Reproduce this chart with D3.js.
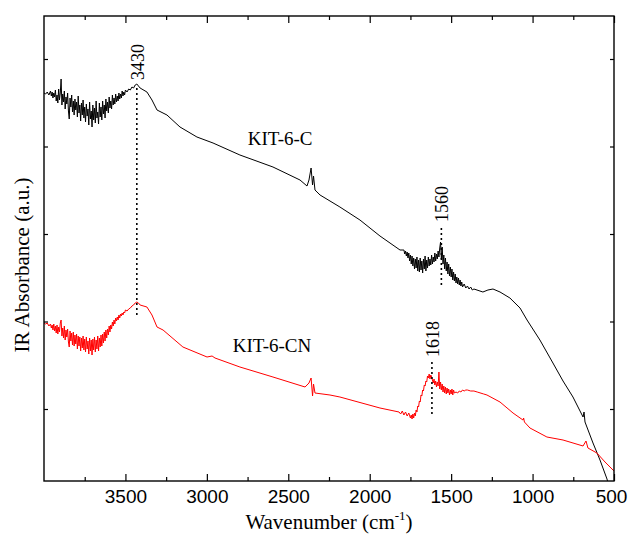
<!DOCTYPE html>
<html>
<head>
<meta charset="utf-8">
<script src="https://cdn.jsdelivr.net/npm/d3@7"></script>
<style>
  body { margin: 0; background: #fff; }
  svg { font-family: "Liberation Serif", "Times New Roman", serif; }
  .axis path { display: none; }
  .axis line { stroke: #000; stroke-width: 1.2; }
  .axis text { font-size: 19px; fill: #000; }
</style>
</head>
<body>
<div class="chart"></div>
<script>
// KIT-6-C spectrum: [wavenumber, absorbance (a.u.)]
const kit6C = [
  [4000,3.88],[3990,3.87],[3980,3.89],[3970,3.86],
  [3960,3.90],[3955,3.85],[3950,3.89],[3945,3.83],[3940,3.88],[3935,3.84],[3930,3.91],[3925,3.80],[3920,3.86],[3915,3.78],
  [3910,3.92],[3905,3.81],[3900,3.88],[3895,4.02],[3890,3.76],[3885,3.87],[3880,3.79],[3875,3.90],[3870,3.72],[3865,3.84],
  [3860,3.77],[3855,3.88],[3850,3.70],[3845,3.62],[3840,3.83],[3835,3.74],[3830,3.86],[3825,3.69],[3820,3.80],[3815,3.66],
  [3810,3.82],[3805,3.71],[3800,3.79],[3795,3.64],[3790,3.85],[3785,3.68],[3780,3.76],[3775,3.60],[3770,3.78],[3765,3.66],
  [3760,3.81],[3755,3.63],[3750,3.74],[3745,3.59],[3740,3.77],[3735,3.65],[3730,3.72],[3725,3.56],[3720,3.79],[3715,3.62],
  [3710,3.70],[3705,3.54],[3700,3.76],[3695,3.61],[3690,3.73],[3685,3.58],[3680,3.80],[3675,3.63],[3670,3.69],[3665,3.57],
  [3660,3.78],[3655,3.64],[3650,3.74],[3645,3.61],[3640,3.80],[3635,3.67],[3630,3.76],[3625,3.63],[3620,3.82],[3615,3.70],
  [3610,3.79],[3605,3.68],[3600,3.84],[3595,3.73],[3590,3.80],[3585,3.72],[3580,3.86],[3575,3.76],[3570,3.83],[3565,3.77],
  [3560,3.87],[3555,3.79],[3550,3.85],[3545,3.80],[3540,3.88],[3535,3.82],[3530,3.87],[3525,3.83],[3520,3.90],[3515,3.85],
  [3510,3.89],[3505,3.86],[3500,3.91],[3490,3.89],[3480,3.92],[3470,3.91],[3460,3.94],[3450,3.93],[3440,3.96],[3430,3.97],
  [3420,3.95],[3410,3.93],[3368,3.89],[3337,3.81],[3306,3.71],[3245,3.66],[3165,3.54],[3061,3.44],[2962,3.38],[2797,3.26],
  [2594,3.14],[2428,3.01],[2385,2.95],[2373,3.01],[2360,3.13],[2351,2.96],[2345,3.05],[2336,2.91],[2305,2.86],[2183,2.74],
  [2060,2.61],[1937,2.45],[1814,2.31],
  [1790,2.31],[1785,2.27],[1780,2.30],[1775,2.25],[1770,2.29],[1765,2.23],[1760,2.28],[1755,2.20],[1750,2.26],[1745,2.17],
  [1740,2.25],[1735,2.15],[1730,2.23],[1725,2.12],[1720,2.22],[1715,2.13],[1710,2.24],[1705,2.10],[1700,2.21],[1695,2.09],
  [1690,2.23],[1685,2.11],[1680,2.20],[1675,2.08],[1670,2.22],[1665,2.12],[1660,2.25],[1655,2.10],[1650,2.21],[1645,2.13],
  [1640,2.24],[1635,2.15],[1630,2.22],[1625,2.16],[1620,2.26],[1615,2.17],[1610,2.24],[1605,2.19],[1600,2.28],[1595,2.20],
  [1590,2.27],[1585,2.22],[1580,2.30],[1575,2.24],[1570,2.33],[1565,2.39],[1560,2.22],[1555,2.34],[1550,2.17],[1545,2.26],
  [1540,2.12],[1535,2.23],[1530,2.10],[1525,2.19],[1520,2.07],[1515,2.17],[1510,2.05],[1505,2.14],[1500,2.04],[1495,2.12],
  [1490,2.01],[1485,2.09],[1480,2.00],[1475,2.07],[1470,1.98],[1465,2.04],[1460,1.97],[1455,2.03],[1450,1.96],[1445,2.01],
  [1440,1.95],[1435,1.99],[1430,1.94],[1420,1.97],[1410,1.93],[1400,1.95],[1390,1.92],[1380,1.94],[1370,1.91],[1360,1.92],
  [1305,1.89],[1274,1.91],[1243,1.92],[1200,1.89],[1139,1.83],[1077,1.73],[1034,1.61],[955,1.41],[875,1.18],[813,1.00],
  [752,0.84],[690,0.64],[684,0.69],[678,0.59],[629,0.38],[586,0.21],[543,0.02],[525,-0.09]
]

// KIT-6-CN spectrum: [wavenumber, absorbance (a.u.)]
const kit6CN = [
  [4000,1.58],[3990,1.57],[3980,1.58],[3970,1.55],
  [3960,1.57],[3955,1.53],[3950,1.56],[3945,1.51],[3940,1.57],[3935,1.50],[3930,1.55],[3925,1.48],[3920,1.56],[3915,1.47],
  [3910,1.54],[3905,1.49],[3900,1.58],[3895,1.61],[3890,1.45],[3885,1.53],[3880,1.43],[3875,1.55],[3870,1.41],[3865,1.51],
  [3860,1.44],[3855,1.52],[3850,1.39],[3845,1.34],[3840,1.50],[3835,1.40],[3830,1.48],[3825,1.36],[3820,1.49],[3815,1.35],
  [3810,1.46],[3805,1.37],[3800,1.47],[3795,1.32],[3790,1.45],[3785,1.35],[3780,1.44],[3775,1.30],[3770,1.43],[3765,1.33],
  [3760,1.45],[3755,1.31],[3750,1.42],[3745,1.29],[3740,1.44],[3735,1.32],[3730,1.40],[3725,1.27],[3720,1.43],[3715,1.30],
  [3710,1.41],[3705,1.26],[3700,1.42],[3695,1.31],[3690,1.44],[3685,1.29],[3680,1.41],[3675,1.32],[3670,1.45],[3665,1.30],
  [3660,1.43],[3655,1.34],[3650,1.46],[3645,1.35],[3640,1.47],[3635,1.38],[3630,1.49],[3625,1.40],[3620,1.51],[3615,1.43],
  [3610,1.52],[3605,1.46],[3600,1.55],[3595,1.49],[3590,1.56],[3585,1.52],[3580,1.59],[3575,1.55],[3570,1.61],[3565,1.57],
  [3560,1.63],[3555,1.60],[3550,1.64],[3545,1.61],[3540,1.66],[3535,1.63],[3530,1.67],[3525,1.65],[3520,1.68],[3515,1.66],
  [3510,1.69],[3505,1.68],[3500,1.71],[3490,1.70],[3480,1.72],[3470,1.73],[3460,1.75],[3450,1.76],[3440,1.78],[3430,1.79],
  [3420,1.78],[3410,1.76],[3368,1.74],[3337,1.66],[3306,1.54],[3269,1.51],[3147,1.34],[2999,1.24],[2968,1.25],[2950,1.23],
  [2797,1.14],[2594,1.04],[2397,0.94],[2373,0.98],[2360,1.03],[2351,0.85],[2345,0.97],[2336,0.88],[2244,0.86],[2183,0.84],
  [1937,0.73],[1820,0.69],[1810,0.67],[1800,0.70],[1790,0.66],[1780,0.69],[1770,0.65],[1760,0.68],[1750,0.63],[1745,0.66],
  [1740,0.62],[1735,0.67],[1730,0.63],[1725,0.68],[1720,0.65],[1715,0.71],[1710,0.69],[1705,0.75],[1700,0.74],[1695,0.80],
  [1690,0.79],[1685,0.86],[1680,0.85],[1675,0.91],[1670,0.90],[1665,0.96],[1660,0.95],[1655,1.00],[1650,0.99],[1645,1.05],
  [1640,1.03],[1635,1.07],[1630,1.02],[1625,1.06],[1620,1.04],[1615,1.01],[1610,0.98],[1605,1.02],[1600,0.96],[1595,1.00],
  [1590,0.94],[1585,0.99],[1580,0.95],[1575,1.09],[1570,0.92],[1565,0.99],[1560,0.91],[1555,0.97],[1550,0.89],[1545,0.95],
  [1540,0.88],[1535,0.94],[1530,0.87],[1525,0.93],[1520,0.88],[1515,0.92],[1510,0.86],[1505,0.91],[1500,0.87],[1495,0.92],
  [1490,0.86],[1485,0.91],[1480,0.88],[1470,0.89],[1460,0.88],[1450,0.90],[1440,0.89],[1430,0.91],[1420,0.90],[1410,0.91],
  [1400,0.91],[1380,0.90],[1360,0.90],[1340,0.89],[1300,0.87],[1280,0.86],[1200,0.79],[1120,0.68],[1059,0.61],[1055,0.63],
  [1050,0.59],[1016,0.53],[912,0.44],[813,0.41],[690,0.35],[672,0.40],[660,0.33],[605,0.28],[555,0.19],[500,0.10]
]

// peak markers: wavenumber, dotted line from/to (a.u.), label foot (a.u.)
const peaks = [
  {wn: 3430, from: 3.93, to: 1.63, label: "3430", at: 4.01},
  {wn: 1560, from: 2.53, to: 1.94, label: "1560", at: 2.59},
  {wn: 1618, from: 1.19, to: 0.64, label: "1618", at: 1.24}
]

const seriesNames = ["KIT-6-C", "KIT-6-CN"]
const seriesColors = ["#000000", "#ff0000"]
const xMajor = [3500, 3000, 2500, 2000, 1500, 1000, 500]
const xMinor = [3750, 3250, 2750, 2250, 1750, 1250, 750]
const yTicks = [0.72, 1.595, 2.47, 3.345, 4.22]

const width = 628, height = 539
const margin = {top: 16, right: 14, bottom: 58, left: 44}
const w = width - margin.left - margin.right
const h = height - margin.top - margin.bottom

const svg = d3.select(".chart").append("svg")
    .attr("width", width)
    .attr("height", height)
  .append("g")
    .attr("transform", `translate(${margin.left},${margin.top})`)

const xScale = d3.scaleLinear().domain([4000, 500]).range([0, w])
const yScale = d3.scaleLinear().domain([0, 4.65]).range([h, 0])

svg.append("clipPath").attr("id", "clip")
  .append("rect").attr("width", w).attr("height", h)

const line = d3.line()
    .x(d => xScale(d[0]))
    .y(d => yScale(d[1]))

svg.append("g").attr("clip-path", "url(#clip)")
  .selectAll("path")
  .data([kit6C, kit6CN])
  .enter()
  .append("path")
    .attr("d", line)
    .attr("fill", "none")
    .attr("stroke", (_, i) => seriesColors[i])
    .attr("stroke-width", 1)
    .attr("stroke-linejoin", "round")

// Dotted peak lines
svg.selectAll(".peak")
  .data(peaks)
  .enter()
  .append("line")
    .attr("x1", d => xScale(d.wn))
    .attr("x2", d => xScale(d.wn))
    .attr("y1", d => yScale(d.from))
    .attr("y2", d => yScale(d.to))
    .attr("stroke", "#000")
    .attr("stroke-width", 1.6)
    .attr("stroke-dasharray", "2,3")

// Peak labels (rotated)
svg.selectAll(".peak-label")
  .data(peaks)
  .enter()
  .append("text")
    .attr("transform", d => `translate(${xScale(d.wn) + 7},${yScale(d.at)}) rotate(-90)`)
    .attr("font-size", 18)
    .text(d => d.label)

// Series labels
const labelPos = [[2550, 3.36], [2600, 1.29]]
svg.selectAll(".series-label")
  .data(seriesNames)
  .enter()
  .append("text")
    .attr("x", (_, i) => xScale(labelPos[i][0]))
    .attr("y", (_, i) => yScale(labelPos[i][1]))
    .attr("text-anchor", "middle")
    .attr("font-size", 19)
    .text(d => d)

// Axes, ticks pointing inward
const xAxisG = svg.append("g").attr("class", "axis")
    .attr("transform", `translate(0,${h})`)
    .call(d3.axisBottom(xScale).tickValues(xMajor).tickSize(-7).tickPadding(9).tickFormat(d3.format("d")))
// keep the last label inside the window
xAxisG.selectAll("text").filter(d => d === 500).attr("dx", -3)
svg.append("g").attr("class", "axis")
    .attr("transform", `translate(0,${h})`)
    .call(d3.axisBottom(xScale).tickValues(xMinor).tickSize(-4).tickFormat(""))
svg.append("g").attr("class", "axis")
    .call(d3.axisTop(xScale).tickValues(xMajor).tickSize(-7).tickFormat(""))
svg.append("g").attr("class", "axis")
    .call(d3.axisTop(xScale).tickValues(xMinor).tickSize(-4).tickFormat(""))
svg.append("g").attr("class", "axis")
    .call(d3.axisLeft(yScale).tickValues(yTicks).tickSize(-4).tickFormat(""))
svg.append("g").attr("class", "axis")
    .attr("transform", `translate(${w},0)`)
    .call(d3.axisRight(yScale).tickValues(yTicks).tickSize(-4).tickFormat(""))

// Frame
svg.append("rect")
    .attr("width", w)
    .attr("height", h)
    .attr("fill", "none")
    .attr("stroke", "#000")
    .attr("stroke-width", 1.4)

// Axis titles
const xTitle = svg.append("text")
    .attr("x", w / 2)
    .attr("y", h + 48)
    .attr("text-anchor", "middle")
    .attr("font-size", 21)
xTitle.append("tspan").text("Wavenumber (cm")
xTitle.append("tspan").attr("font-size", 13).attr("dy", -9).text("-1")
xTitle.append("tspan").attr("dy", 9).text(")")

svg.append("text")
    .attr("transform", `translate(${-margin.left + 29},${249}) rotate(-90)`)
    .attr("text-anchor", "middle")
    .attr("font-size", 21)
    .text("IR Absorbance (a.u.)")
</script>
</body>
</html>
